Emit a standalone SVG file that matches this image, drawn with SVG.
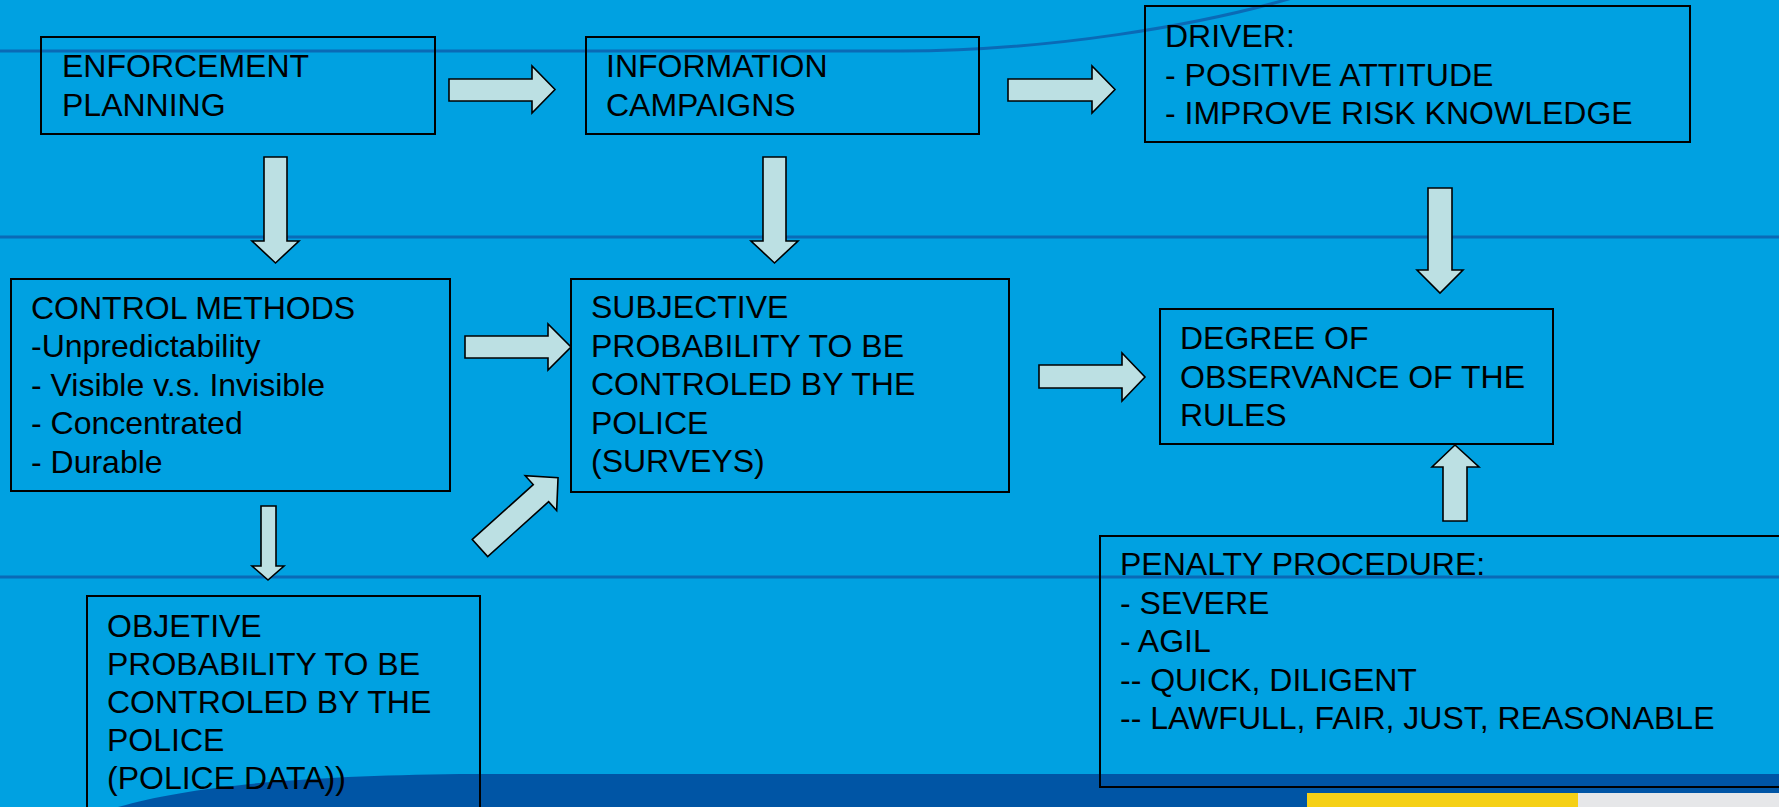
<svg xmlns="http://www.w3.org/2000/svg" width="1779" height="807" viewBox="0 0 1779 807">
<style>
.bg{fill:#00a1e1}
.rule{fill:none;stroke:#0a6ab6;stroke-width:3}
.box{fill:none;stroke:#000;stroke-width:2}
.arr{fill:#bce0e3;stroke:#000;stroke-width:1.6;stroke-linejoin:miter}
.t{font-family:"Liberation Sans",Arial,sans-serif;font-size:32px;fill:#000}
</style>
<defs>
<polygon id="arrow" points="0,-11.5 82,-11.5 82,-23.5 105,0 82,23.5 82,11.5 0,11.5"/>
</defs>
<g id="background">
<rect class="bg" x="0" y="0" width="1779" height="807"/>
<path class="rule" d="M0,51 L900,51 C1050,51 1200,25 1292,-2"/>
<line class="rule" x1="0" y1="237" x2="1779" y2="237"/>
<line class="rule" x1="0" y1="577" x2="1779" y2="577"/>
<path d="M118,807 C190,786 300,776 460,774 L1779,774 L1779,807 Z" fill="#0055a5"/>
<rect x="1307" y="793" width="271" height="14" fill="#f5d016"/>
<rect x="1578" y="793" width="201" height="14" fill="#e6e7e9"/>
</g>
<g id="connectors">
<polygon class="arr" points="449,79 532,79 532,66 555,89.5 532,113 532,101 449,101"/>
<polygon class="arr" points="1008,79 1092,79 1092,66 1115,89.5 1092,113 1092,101 1008,101"/>
<polygon class="arr" points="264,157 287,157 287,241 299,241 275.5,263 252,241 264,241"/>
<polygon class="arr" points="763,157 786,157 786,241 798,241 774.5,263 751,241 763,241"/>
<polygon class="arr" points="1428,188 1452,188 1452,270 1463,270 1440,293 1417,270 1428,270"/>
<polygon class="arr" points="465,336 548,336 548,324 571,347 548,370 548,358 465,358"/>
<polygon class="arr" points="1039,365 1122,365 1122,353 1145,377 1122,401 1122,388 1039,388"/>
<polygon class="arr" points="1443,521 1467,521 1467,467 1479,467 1455,445 1432,467 1443,467"/>
<polygon class="arr" points="261,506 276,506 276,566 284,566 268,580 252,566 261,566"/>
<use href="#arrow" class="arr" transform="translate(480,548) rotate(-42)"/>
</g>
<g id="enforcement">
<rect class="box" x="41" y="37" width="394" height="97"/>
<text class="t" x="62" y="77">ENFORCEMENT<tspan x="62" dy="39">PLANNING</tspan></text>
</g>
<g id="information">
<rect class="box" x="586" y="37" width="393" height="97"/>
<text class="t" x="606" y="77">INFORMATION<tspan x="606" dy="39">CAMPAIGNS</tspan></text>
</g>
<g id="driver">
<rect class="box" x="1145" y="6" width="545" height="136"/>
<text class="t" x="1165" y="47">DRIVER:<tspan x="1165" dy="38.5">- POSITIVE ATTITUDE</tspan><tspan x="1165" dy="38.5">- IMPROVE RISK KNOWLEDGE</tspan></text>
</g>
<g id="control">
<rect class="box" x="11" y="279" width="439" height="212"/>
<text class="t" x="31" y="319">CONTROL METHODS<tspan x="31" dy="38.4">-Unpredictability</tspan><tspan x="31" dy="38.4">- Visible v.s. Invisible</tspan><tspan x="31" dy="38.4">- Concentrated</tspan><tspan x="31" dy="38.4">- Durable</tspan></text>
</g>
<g id="subjective">
<rect class="box" x="571" y="279" width="438" height="213"/>
<text class="t" x="591" y="318">SUBJECTIVE<tspan x="591" dy="38.5">PROBABILITY TO BE</tspan><tspan x="591" dy="38.5">CONTROLED BY THE</tspan><tspan x="591" dy="38.5">POLICE</tspan><tspan x="591" dy="38.5">(SURVEYS)</tspan></text>
</g>
<g id="degree">
<rect class="box" x="1160" y="309" width="393" height="135"/>
<text class="t" x="1180" y="349">DEGREE OF<tspan x="1180" dy="38.5">OBSERVANCE OF THE</tspan><tspan x="1180" dy="38.5">RULES</tspan></text>
</g>
<g id="penalty">
<rect class="box" x="1100" y="536" width="700" height="251"/>
<text class="t" x="1120" y="575">PENALTY PROCEDURE:<tspan x="1120" dy="38.5">- SEVERE</tspan><tspan x="1120" dy="38.5">- AGIL</tspan><tspan x="1120" dy="38.5">-- QUICK, DILIGENT</tspan><tspan x="1120" dy="38.5">-- LAWFULL, FAIR, JUST, REASONABLE</tspan></text>
</g>
<g id="objective">
<rect class="box" x="87" y="596" width="393" height="240"/>
<text class="t" x="107" y="637">OBJETIVE<tspan x="107" dy="38">PROBABILITY TO BE</tspan><tspan x="107" dy="38">CONTROLED BY THE</tspan><tspan x="107" dy="38">POLICE</tspan><tspan x="107" dy="38">(POLICE DATA))</tspan></text>
</g>
</svg>
